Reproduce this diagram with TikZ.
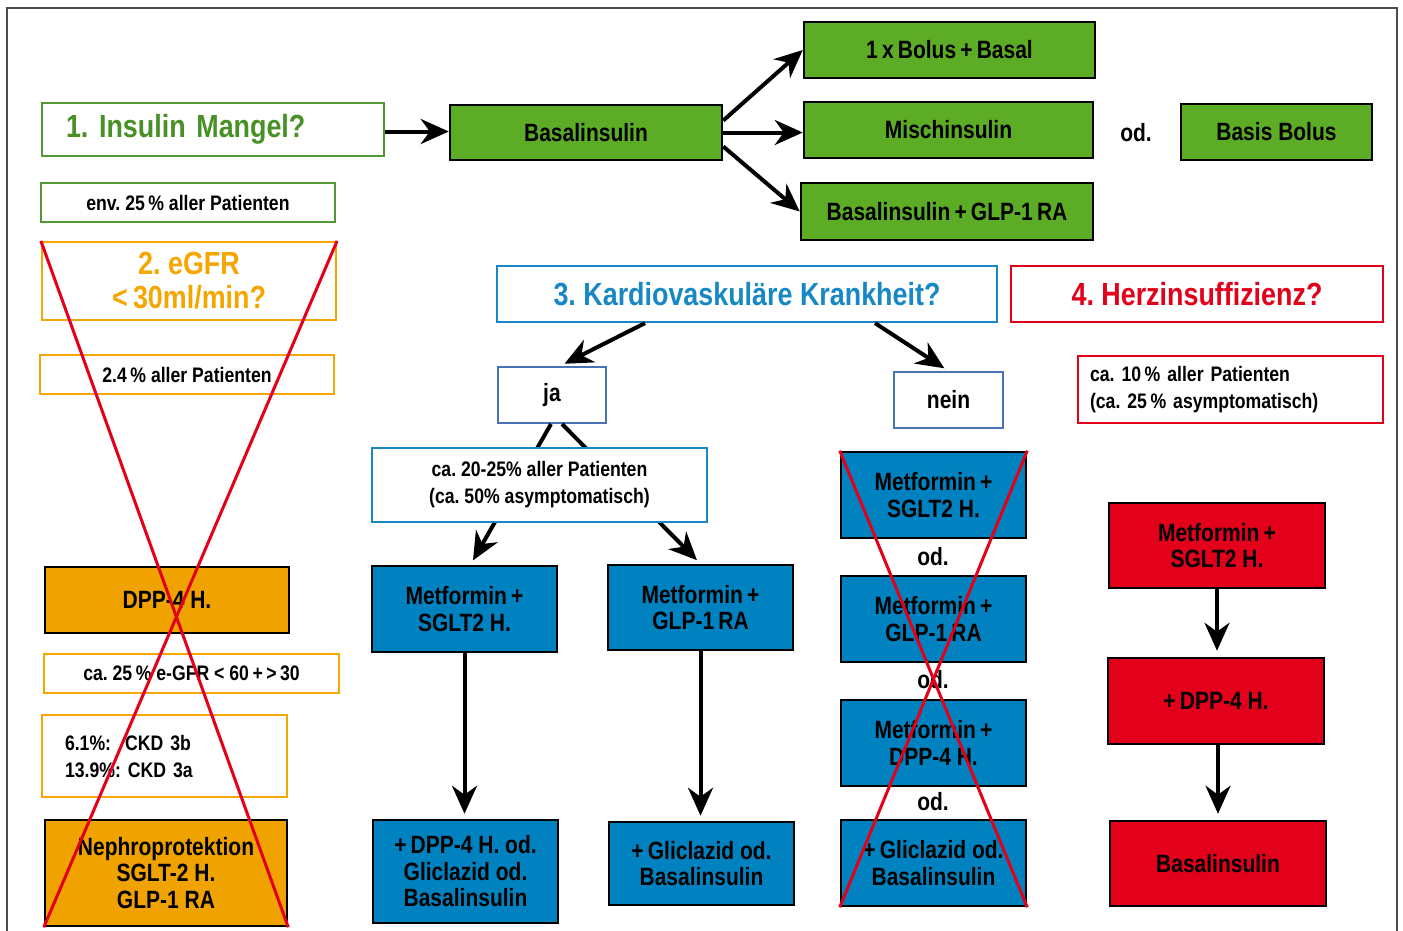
\documentclass[tikz,border=0pt]{standalone}
\usepackage{fontspec}
\setmainfont[FakeStretch=0.84]{Liberation Sans}
\usetikzlibrary{arrows.meta}
\frenchspacing

\definecolor{insgreen}{RGB}{92,172,38}
\definecolor{insgreentext}{RGB}{72,145,38}
\definecolor{insgreenline}{RGB}{84,152,52}
\definecolor{egfrorange}{RGB}{245,166,0}
\definecolor{egfrfill}{RGB}{240,162,0}
\definecolor{cvblue}{RGB}{0,130,192}
\definecolor{cvbluetext}{RGB}{24,136,196}
\definecolor{cvsteel}{RGB}{72,116,180}
\definecolor{hired}{RGB}{226,0,26}

\newcommand{\flowtitlefont}{\bfseries\fontsize{32}{34}\selectfont}
\newcommand{\flowboxfont}{\bfseries\fontsize{25}{26.5}\selectfont}
\newcommand{\flownotefont}{\bfseries\fontsize{21}{27}\selectfont}

\begin{document}
\begin{tikzpicture}[x=1pt,y=-1pt,
	fillbox/.style={draw=black, line width=2.5pt, inner sep=0pt, align=center, font=\flowboxfont},
	greenbox/.style={fillbox, fill=insgreen, minimum width=#1, minimum height=56pt},
	orangebox/.style={fillbox, fill=egfrfill, minimum width=244pt},
	bluebox/.style={fillbox, fill=cvblue, minimum width=185pt, minimum height=86pt},
	redbox/.style={fillbox, fill=hired, minimum width=216pt, minimum height=85pt},
	question/.style={draw=#1, line width=2.2pt, fill=white, inner sep=0pt, align=center, font=\flowtitlefont},
	note/.style={draw=#1, line width=2pt, fill=white, inner sep=0pt, align=center, font=\flownotefont},
	choice/.style={draw=cvsteel, line width=2pt, fill=white, inner sep=0pt, font=\flowboxfont, minimum width=108pt, minimum height=56pt},
	odlabel/.style={font=\flowboxfont, inner sep=0pt},
	arr/.style={-{Stealth[length=28pt, width=25pt, inset=9pt]}, line width=4pt},
	strike/.style={hired, line width=3pt}]
	\useasboundingbox (0,0) rectangle (1403,930);
	
	% Frame
	\draw[black!70, line width=1.2pt] (7,950) -- (7,8) -- (1397,8) -- (1397,950);
	
	% 1. Insulin
	\node[question=insgreenline, text=insgreentext, text width=294pt, inner xsep=24pt, align=left, minimum height=53pt] (t1) at (213,129.5) {1. Insulin Mangel?};
	\node[note=insgreenline, minimum width=294pt, minimum height=39pt] (n1) at (188,202.5) {env. 25\,\% aller Patienten};
	
	\node[greenbox=272pt, minimum height=55pt] (basal) at (586,132.5) {Basalinsulin};
	\node[greenbox=291pt] (bolus) at (949.5,50) {1\,x\,Bolus\,+\,Basal};
	\node[greenbox=289pt] (misch) at (948.5,130) {Mischinsulin};
	\node[greenbox=292pt, minimum height=57pt] (basglp) at (947,211.5) {Basalinsulin\,+\,GLP-1\,RA};
	\node[odlabel] (od0) at (1136,133) {od.};
	\node[greenbox=191pt] (bb) at (1276.5,132) {Basis Bolus};
	
	\draw[arr] ([yshift=-2pt]t1.east) -- ([yshift=-2pt]t1.east -| basal.west);
	\draw[arr] ([yshift=12pt]basal.east) -- (bolus.west);
	\draw[arr] (basal.east) -- (basal.east -| misch.west);
	\draw[arr] ([yshift=-14pt]basal.east) -- (basglp.west);
	
	% 2. eGFR
	\node[question=egfrorange, text=egfrorange, minimum width=294pt, minimum height=78pt] (t2) at (189,281) {2. eGFR\\<\,30ml/min?};
	\node[note=egfrorange, minimum width=294pt, minimum height=39pt] (n2) at (187,374.5) {2.4\,\% aller Patienten};
	\node[orangebox, minimum height=66pt] (dpp) at (167,600) {DPP-4 H.};
	\node[note=egfrorange, minimum width=295pt, minimum height=39pt] (n3) at (191.5,673.5) {ca. 25\,\% e-GFR < 60\,+\,>\,30};
	\node[note=egfrorange, text width=199pt, inner xsep=23pt, align=left, minimum height=82pt] (n4) at (164.5,756) {6.1\%:\hspace{14pt}CKD 3b\\13.9\%: CKD 3a};
	\node[orangebox, minimum width=242pt, minimum height=106pt] (neph) at (166,873) {Nephroprotektion\\SGLT-2 H.\\GLP-1 RA};
	
	% 3. Kardiovaskulaere Krankheit
	\node[question=cvbluetext, text=cvbluetext, minimum width=500pt, minimum height=56pt] (t3) at (747,294) {3. Kardiovaskuläre Krankheit?};
	\node[choice] (ja) at (552,395) {ja};
	\node[choice, minimum width=109pt] (nein) at (948.5,400) {nein};
	\draw[arr, shorten >=5pt] ([xshift=-102pt]t3.south) -- ([xshift=8pt]ja.north);
	\draw[arr, shorten >=5pt] ([xshift=128pt]t3.south) -- (nein.north);
	
	\node[bluebox] (met1) at (464.5,609) {Metformin\,+\\SGLT2 H.};
	\node[bluebox, minimum height=85pt] (met2) at (700.5,607.5) {Metformin\,+\\GLP-1\,RA};
	\draw[arr, shorten >=5pt] ([xshift=-1pt]ja.south) -- ([xshift=6pt]met1.north);
	\draw[arr, shorten >=5pt] ([xshift=10pt]ja.south) -- (met2.north);
	\node[note=cvbluetext, minimum width=335pt, minimum height=74pt] (n5) at (539.5,485) {ca. 20-25\% aller Patienten\\(ca. 50\% asymptomatisch)};
	
	\node[bluebox, minimum height=103pt] (met1b) at (465.5,871.5) {+\,DPP-4 H. od.\\Gliclazid od.\\Basalinsulin};
	\node[bluebox, minimum height=83pt] (met2b) at (701.5,863.5) {+\,Gliclazid od.\\Basalinsulin};
	\draw[arr, shorten >=5pt] (met1.south) -- (met1.south |- met1b.north);
	\draw[arr, shorten >=5pt] (met2.south) -- (met2.south |- met2b.north);
	
	\node[bluebox] (nb1) at (933.5,495) {Metformin\,+\\SGLT2 H.};
	\node[odlabel] (od1) at (933,557) {od.};
	\node[bluebox] (nb2) at (933.5,619) {Metformin\,+\\GLP-1\,RA};
	\node[odlabel] (od2) at (933,680) {od.};
	\node[bluebox] (nb3) at (933.5,743) {Metformin\,+\\DPP-4 H.};
	\node[odlabel] (od3) at (933,802) {od.};
	\node[bluebox] (nb4) at (933.5,863) {+\,Gliclazid od.\\Basalinsulin};
	
	% 4. Herzinsuffizienz
	\node[question=hired, text=hired, minimum width=372pt, minimum height=56pt] (t4) at (1197,294) {4. Herzinsuffizienz?};
	\node[note=hired, text width=281pt, inner xsep=12pt, align=left, minimum height=67pt] (n6) at (1230.5,389.5) {ca. 10\,\% aller Patienten\\(ca. 25\,\% asymptomatisch)};
	\node[redbox] (r1) at (1217,545.5) {Metformin\,+\\SGLT2 H.};
	\node[redbox, minimum height=86pt] (r2) at (1216,701) {+\,DPP-4 H.};
	\node[redbox] (r3) at (1218,863.5) {Basalinsulin};
	\draw[arr, shorten >=6pt] (r1.south) -- (r1.south |- r2.north);
	\draw[arr, shorten >=6pt] ([xshift=2pt]r2.south) -- ([xshift=2pt]r2.south |- r3.north);
	
	% Crossed out
	\draw[strike] (t2.north west) -- (neph.south east);
	\draw[strike] (t2.north east) -- (neph.south west);
	\draw[strike] (nb1.north west) -- (nb4.south east);
	\draw[strike] (nb1.north east) -- (nb4.south west);
\end{tikzpicture}
\end{document}
